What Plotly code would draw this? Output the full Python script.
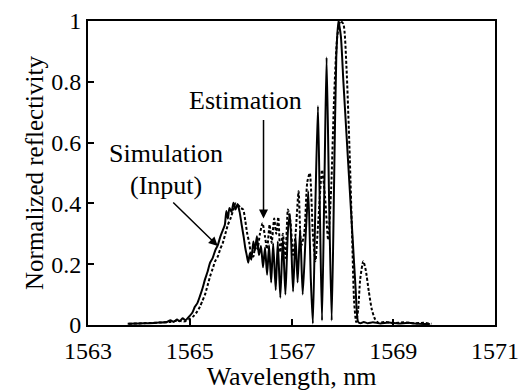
import plotly.graph_objects as go

sim_wl = [1563.78, 1564.00, 1564.20, 1564.40, 1564.55, 1564.62, 1564.68, 1564.75, 1564.80, 1564.86,
          1564.92, 1565.00, 1565.05, 1565.10, 1565.15, 1565.20, 1565.25, 1565.30, 1565.35, 1565.40,
          1565.45, 1565.50, 1565.55, 1565.60, 1565.65, 1565.69, 1565.72, 1565.75, 1565.78, 1565.82,
          1565.86, 1565.90, 1565.94, 1565.98, 1566.02, 1566.06, 1566.09, 1566.12, 1566.15, 1566.18,
          1566.21, 1566.25, 1566.28, 1566.32, 1566.36, 1566.40, 1566.44, 1566.48, 1566.52, 1566.56,
          1566.60, 1566.64, 1566.69, 1566.73, 1566.78, 1566.83, 1566.88, 1566.93, 1566.97, 1567.03,
          1567.08, 1567.12, 1567.17, 1567.22, 1567.28, 1567.33, 1567.38, 1567.42, 1567.47, 1567.52,
          1567.56, 1567.60, 1567.65, 1567.69, 1567.74, 1567.79, 1567.84, 1567.88, 1567.92, 1567.97,
          1568.02, 1568.08, 1568.14, 1568.20, 1568.26, 1568.31, 1568.36, 1568.42, 1568.50, 1568.60,
          1568.75, 1568.90, 1569.10, 1569.30, 1569.50, 1569.72]
sim_r = [0.004, 0.005, 0.006, 0.008, 0.010, 0.016, 0.010, 0.018, 0.012, 0.022,
         0.016, 0.030, 0.040, 0.060, 0.072, 0.095, 0.120, 0.150, 0.175, 0.205,
         0.220, 0.245, 0.262, 0.290, 0.312, 0.330, 0.375, 0.350, 0.385, 0.372,
         0.402, 0.380, 0.398, 0.372, 0.330, 0.290, 0.255, 0.230, 0.205, 0.235,
         0.215, 0.275, 0.245, 0.292, 0.230, 0.260, 0.190, 0.255, 0.165, 0.262,
         0.140, 0.268, 0.115, 0.275, 0.090, 0.285, 0.100, 0.310, 0.365, 0.110,
         0.290, 0.140, 0.315, 0.100, 0.300, 0.440, 0.150, 0.005, 0.400, 0.720,
         0.350, 0.015, 0.500, 0.880, 0.400, 0.015, 0.500, 0.880, 1.000, 0.950,
         0.800, 0.630, 0.460, 0.290, 0.120, 0.010, 0.006, 0.010, 0.006, 0.009,
         0.005, 0.008, 0.005, 0.007, 0.004, 0.003]

est_wl = [1563.80, 1564.10, 1564.40, 1564.60, 1564.75, 1564.90, 1565.00, 1565.08, 1565.15, 1565.20,
          1565.25, 1565.30, 1565.35, 1565.40, 1565.45, 1565.50, 1565.55, 1565.60, 1565.65, 1565.70,
          1565.75, 1565.80, 1565.85, 1565.90, 1565.95, 1566.00, 1566.05, 1566.09, 1566.13, 1566.17,
          1566.21, 1566.25, 1566.29, 1566.33, 1566.38, 1566.43, 1566.48, 1566.52, 1566.57, 1566.61,
          1566.66, 1566.70, 1566.74, 1566.78, 1566.83, 1566.88, 1566.93, 1566.98, 1567.03, 1567.08,
          1567.14, 1567.19, 1567.25, 1567.31, 1567.36, 1567.42, 1567.47, 1567.53, 1567.60, 1567.66,
          1567.72, 1567.78, 1567.84, 1567.90, 1567.96, 1568.02, 1568.08, 1568.14, 1568.19, 1568.23,
          1568.27, 1568.31, 1568.35, 1568.41, 1568.46, 1568.52, 1568.58, 1568.64, 1568.70, 1568.85,
          1569.00, 1569.20, 1569.40, 1569.60, 1569.75]
est_r = [0.004, 0.006, 0.008, 0.010, 0.014, 0.012, 0.020, 0.030, 0.045, 0.060,
         0.080, 0.100, 0.130, 0.160, 0.185, 0.210, 0.225, 0.250, 0.270, 0.300,
         0.330, 0.350, 0.375, 0.400, 0.395, 0.385, 0.380, 0.345, 0.300, 0.270,
         0.230, 0.225, 0.270, 0.250, 0.300, 0.335, 0.290, 0.250, 0.330, 0.270,
         0.350, 0.300, 0.355, 0.240, 0.300, 0.220, 0.380, 0.340, 0.230, 0.300,
         0.440, 0.260, 0.300, 0.470, 0.500, 0.300, 0.210, 0.350, 0.510, 0.420,
         0.280, 0.450, 0.760, 0.950, 1.000, 0.990, 0.850, 0.580, 0.300, 0.080,
         0.010, 0.050, 0.150, 0.210, 0.180, 0.110, 0.050, 0.020, 0.008, 0.010,
         0.006, 0.009, 0.006, 0.007, 0.004]

x_ticks = [1563, 1565, 1567, 1569, 1571]
y_ticks = [0, 0.2, 0.4, 0.6, 0.8, 1]
y_tick_text = ["0", "0.2", "0.4", "0.6", "0.8", "1"]

FONT = "Liberation Serif"
tick_font = dict(family=FONT, size=24, color="black")
xtitle_font = dict(family=FONT, size=26, color="black")
ytitle_font = dict(family=FONT, size=25, color="black")
ann_font = dict(family=FONT, size=26, color="black")

fig = go.Figure()
fig.add_trace(go.Scatter(x=est_wl, y=est_r, mode="lines",
                         line=dict(color="black", width=2, dash="3px,2px", shape="spline", smoothing=0.6),
                         showlegend=False))
fig.add_trace(go.Scatter(x=sim_wl, y=sim_r, mode="lines",
                         line=dict(color="black", width=2, shape="spline", smoothing=0.6),
                         showlegend=False))

fig.update_layout(
    width=522, height=391,
    margin=dict(l=88, r=27, t=21, b=66, autoexpand=False),
    paper_bgcolor="white", plot_bgcolor="white",
    font=dict(color="black"),
    xaxis=dict(range=[1563, 1571], tickvals=x_ticks, ticks="inside", ticklen=6, tickwidth=1.5,
               tickcolor="black", automargin=False, ticklabelstandoff=3,
               showline=True, linewidth=2, linecolor="black", mirror=True, showgrid=False,
               zeroline=False, title=dict(text="Wavelength, nm", standoff=0, font=xtitle_font),
               tickfont=tick_font),
    yaxis=dict(range=[0, 1], tickvals=y_ticks, ticktext=y_tick_text, ticks="inside", ticklen=6,
               tickwidth=1.5, tickcolor="black", automargin=False,
               showline=True, linewidth=2, linecolor="black", mirror=True,
               showgrid=False, zeroline=False,
               title=dict(text="Normalized reflectivity", standoff=0, font=ytitle_font),
               tickfont=tick_font),
)

fig.add_annotation(x=1566.45, y=0.35, ax=0, ay=-100, xref="x", yref="y",
                   showarrow=True, arrowhead=2, arrowsize=1.2, arrowwidth=1.5, arrowcolor="black", text="")
fig.add_annotation(x=1566.1, y=0.74, xref="x", yref="y", text="Estimation", showarrow=False,
                   font=ann_font)
fig.add_annotation(x=1565.55, y=0.26, ax=-46, ay=-45, xref="x", yref="y",
                   showarrow=True, arrowhead=2, arrowsize=1.2, arrowwidth=1.5, arrowcolor="black", text="")
fig.add_annotation(x=1564.53, y=0.565, xref="x", yref="y", text="Simulation", showarrow=False,
                   font=ann_font)
fig.add_annotation(x=1564.53, y=0.46, xref="x", yref="y", text="(Input)", showarrow=False,
                   font=ann_font)

fig.write_html("out.html")
